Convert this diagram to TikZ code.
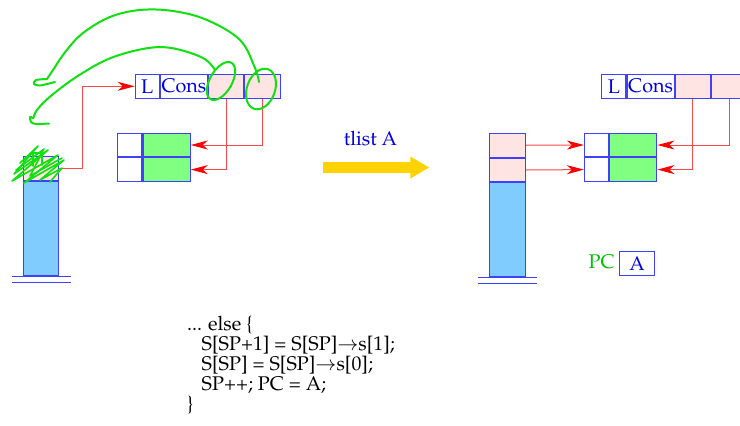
\documentclass[tikz,border=0pt]{standalone}
\usepackage[T1]{fontenc}
\usepackage{mathpazo}
\usetikzlibrary{arrows.meta,calc,positioning}
\definecolor{boxblue}{HTML}{4040FF}
\definecolor{txtblue}{HTML}{0000E0}
\definecolor{cellpink}{HTML}{FFE4E4}
\definecolor{cellgreen}{HTML}{80FF80}
\definecolor{stackblue}{HTML}{80CCFF}
\definecolor{ptrred}{HTML}{FF4848}
\definecolor{scribgreen}{HTML}{10E010}
\definecolor{pcgreen}{HTML}{00C000}
\definecolor{arrowgold}{HTML}{FFD200}
\tikzset{
  cell/.style={draw=boxblue, line width=1.1pt, inner sep=0pt, anchor=north west,
    minimum height=23.5pt, text=txtblue},
  pinkcell/.style={cell, fill=cellpink},
  greencell/.style={cell, fill=cellgreen},
  stackcell/.style={cell, fill=stackblue},
  ptr/.style={draw=ptrred, line width=1pt,
    -{Stealth[length=17pt,width=9pt,inset=5pt,color=red]}},
  scrib/.style={draw=scribgreen, line width=2pt, line cap=round, line join=round},
  ground/.style={draw=boxblue, line width=1pt},
  bigarrow/.style={draw=arrowgold, line width=11.6pt,
    -{Triangle[length=19pt,width=20.6pt]}}
}

\begin{document}
\begin{tikzpicture}[x=1pt,y=-1pt,font=\fontsize{19.8}{20.2}\selectfont]
  \useasboundingbox (0,0) rectangle (740,426);

  % cons cell and the two-field block, before and after
  \foreach \s/\dx in {l/0,r/466.6}{
    \node[cell, minimum width=24pt] (\s-L) at (134.7+\dx,74) {L};
    \node[cell, minimum width=47.3pt, right=0pt of \s-L] (\s-Cons) {Cons};
    \node[pinkcell, minimum width=34.7pt, right=0pt of \s-Cons] (\s-A) {};
    \node[pinkcell, minimum width=36pt, right=0pt of \s-A] (\s-B) {};
    \node[cell, minimum width=24pt] (\s-W1) at (117.3+\dx,132.7) {};
    \node[greencell, minimum width=47.3pt, right=0pt of \s-W1] (\s-G1) {};
    \node[cell, minimum width=24pt, below=0pt of \s-W1] (\s-W2) {};
    \node[greencell, minimum width=47.3pt, right=0pt of \s-W2] (\s-G2) {};
  }

  % stack before
  \node[pinkcell, minimum width=35.5pt, minimum height=24pt] (l-S1) at (22.7,156) {};
  \node[stackcell, minimum width=35.5pt, minimum height=94pt, below=0pt of l-S1] (l-S0) {};
  \draw[ground] ($(l-S0.south west)+(-11,0)$) -- ($(l-S0.south east)+(11.5,0)$);
  \draw[ground] ($(l-S0.south west)+(-11,6)$) -- ($(l-S0.south east)+(11.5,6)$);

  % stack after
  \node[pinkcell, minimum width=35.5pt, minimum height=24pt] (r-S2) at (489.3,132.7) {};
  \node[pinkcell, minimum width=35.5pt, minimum height=23.3pt, below=0pt of r-S2] (r-S1) {};
  \node[stackcell, minimum width=35.5pt, minimum height=94pt, below=0pt of r-S1] (r-S0) {};
  \draw[ground] ($(r-S0.south west)+(-11,0)$) -- ($(r-S0.south east)+(11.5,0)$);
  \draw[ground] ($(r-S0.south west)+(-11,6)$) -- ($(r-S0.south east)+(11.5,6)$);

  % pointers
  \draw[ptr] (l-S1.east) -- ++(23,0) |- (l-L.west);
  \draw[ptr] (l-A.south) |- (l-G2.east);
  \draw[ptr] (l-B.south) |- (l-G1.east);
  \draw[ptr] (r-S2.east) -- (r-W1.west);
  \draw[ptr] (r-S1.east) -- (r-W2.west);
  \draw[ptr] (r-A.south) |- (r-G2.east);
  \draw[ptr] (r-B.south) |- (r-G1.east);

  % transition
  \coordinate (go) at (323.3,167.5);
  \coordinate (done) at (429.3,167.5);
  \draw[bigarrow] (go) -- (done);
  \node[text=txtblue] (instr) at (370.5,138.6) {tlist A};

  \node[text=pcgreen] (pc) at (601.7,262.2) {PC};
  \node[cell, minimum width=35.6pt, minimum height=24pt] (pcval) at (618.7,250.7) {A};

  % hand-drawn notes
  \draw[scrib] plot[smooth, tension=0.6] coordinates {(259,82) (255,68) (240,40) (207,20)
    (173,11) (140,10) (110,17) (83,33) (66,51) (53,70) (47,79)};
  \draw[scrib] plot[smooth, tension=0.5] coordinates {(47,79) (36,80) (34,84) (40,85.5) (55,82)};
  \draw[scrib] plot[smooth, tension=0.6] coordinates {(215,70) (203,58) (173,48.3) (146.7,48.3)
    (110,58.3) (76.7,76.7) (50,96.7) (37,110) (33.3,118.3)};
  \draw[scrib] plot[smooth, tension=0.5] coordinates {(33,118) (30,117) (31,122) (36,124) (49,123.5)};
  \draw[scrib, rotate around={60:(221,81)}] (221,81) ellipse [x radius=21, y radius=11];
  \draw[scrib, rotate around={70:(261,89)}] (261,89) ellipse [x radius=21, y radius=14];
  \draw[scrib, line width=1.6pt] (20,163) -- (38,146) -- (14,174) -- (48,150) -- (12,181)
    -- (58,155) -- (24,183) -- (64,160) -- (40,180) -- (62,168) -- (50,182);
  \draw[scrib, line width=1.6pt] (16,170) -- (44,149) -- (30,176) -- (62,158);
  \draw[scrib, line width=1.6pt] (33,166) -- (33,153) -- (42,153) -- (42,165);

  % code
  \node[anchor=north west, inner sep=0pt, align=left] (code) at (187,315.5)
    {... else \{\\
     \hspace*{14.5pt}S[SP+1] = S[SP]$\rightarrow$s[1];\\
     \hspace*{14.5pt}S[SP] = S[SP]$\rightarrow$s[0];\\
     \hspace*{14.5pt}SP++; PC = A;\\
     \}};
\end{tikzpicture}
\end{document}
